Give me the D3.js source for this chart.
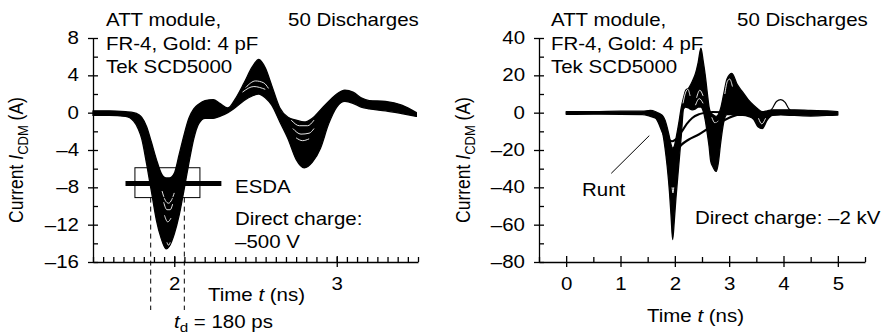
<!DOCTYPE html>
<html>
<head>
<meta charset="utf-8">
<script src="https://cdn.jsdelivr.net/npm/d3@7"></script>
<style>
  body { margin: 0; background: #fff; }
  svg text { font-family: "Liberation Sans", Arial, Helvetica, sans-serif; font-size: 17.5px; fill: #000; }
</style>
</head>
<body>
<svg id="chart" width="887" height="335"></svg>
<script>

// ---- left panel: -500 V, 50 discharges (envelope of the bundle) ----
var leftTime = [1.50,1.60,1.70,1.75,1.78,1.80,1.83,1.86,1.89,1.92,1.95,1.97,2.00,2.03,2.06,2.09,2.12,2.15,2.19,2.24,
                2.28,2.33,2.38,2.43,2.48,2.52,2.56,2.60,2.65,2.70,2.75,2.80,2.85,2.90,2.95,3.00,3.05,3.10,3.15,3.20,
                3.30,3.40,3.49];
var leftLow  = [-0.3,-0.3,-0.4,-0.9,-1.8,-2.8,-5.5,-8.5,-11.5,-13.5,-14.6,-14.3,-13.0,-11.0,-8.3,-5.4,-2.8,-1.2,-0.6,-0.6,
                -0.4,0.0,0.6,1.3,1.8,2.0,1.6,0.8,-1.0,-2.8,-5.0,-5.9,-5.3,-3.8,-1.2,0.6,1.2,1.0,0.6,0.4,
                0.2,-0.1,-0.4];
var leftHigh = [0.2,0.2,0.1,0.0,-0.2,-0.5,-1.5,-3.2,-5.0,-6.5,-7.0,-7.0,-6.5,-4.5,-2.4,-0.6,0.4,0.9,1.3,1.4,
                1.0,0.5,1.6,3.2,4.9,5.7,4.8,2.9,0.5,-0.5,-0.8,-1.0,-0.6,0.3,1.2,2.0,2.4,2.2,1.6,1.3,
                1.2,0.8,0.0];
// single traces seen as white gaps inside the bundle
var leftGaps = [
  [[1.925,-8.4],[1.945,-9.4],[1.965,-9.7],[1.985,-9.3],[2.0,-8.6]],
  [[1.935,-9.6],[1.955,-10.4],[1.975,-10.4],[1.99,-9.8]],
  [[1.94,-11.0],[1.96,-11.7],[1.98,-11.3]],
  [[1.955,-13.9],[1.965,-14.2],[1.975,-13.9]],
  [[2.44,2.7],[2.5,3.4],[2.55,3.2],[2.58,2.6]],
  [[2.42,2.2],[2.49,2.8],[2.56,2.5]],
  [[2.72,-0.8],[2.77,-1.4],[2.82,-1.4],[2.86,-0.8]],
  [[2.73,-1.7],[2.78,-2.3],[2.83,-2.2],[2.86,-1.7]],
  [[2.75,-2.7],[2.79,-3.0],[2.83,-2.8]]
];
var leftYTicks = [-16,-12,-8,-4,0,4,8];
var leftYMinor = [-14,-10,-6,-2,2,6];
var leftXTicks = [2,3];
var leftXMinor = d3.range(1.5, 3.5001, 0.0625);

// ---- right panel: -2 kV ----
var rightTime = [0,0.5,1.0,1.4,1.55,1.65,1.72,1.77,1.82,1.86,1.90,1.93,1.96,1.99,2.02,2.07,2.12,2.16,2.20,2.25,
                 2.32,2.38,2.43,2.48,2.52,2.56,2.60,2.63,2.66,2.70,2.76,2.80,2.84,2.90,2.96,3.05,3.15,3.25,3.35,3.45,
                 3.53,3.61,3.70,3.80,3.95,4.2,4.5,4.8,5.0];
var rightLow  = [-0.9,-0.8,-0.9,-1.0,-2.0,-3.0,-6.0,-10,-19,-29,-42,-55,-68,-58,-46,-29,-12,2,3,2.5,
                 1.5,2,3,3,1,-4,-11.7,-18,-26,-29,-31.5,-27,-17,-5,-1,-1,-1.5,-1.5,-2,-3.5,
                 -7.5,-8.5,-4,-1.5,-1.2,-1.5,-1.8,-1.5,-1.3];
var rightHigh = [0.6,0.6,0.8,0.8,1.2,0.5,-0.5,-1.5,-4,-8,-13,-17,-19,-18,-14,-6,3,8,12,13,
                 16.7,21,27,34.5,28,20,10,3,0,-1,-2,-1,2,10,18,21,15,11,7,4,
                 2,0.5,1,1.5,1.5,1.5,1.2,1.0,0.5];
var runtATime = [1.40,1.60,1.70,1.77,1.85,1.95,2.03,2.13,2.22,2.32,2.45,2.56,2.70,2.90];
var runtA     = [0,-0.8,-4,-9,-13,-15.3,-14,-10,-6,-2.8,-0.8,0,0.3,0.2];
var runtBTime = [1.40,1.60,1.70,1.77,1.85,1.96,2.05,2.13,2.25,2.44,2.63,2.87,3.06,3.30,3.50];
var runtB     = [0,-1,-5,-10,-15,-20.6,-19.5,-17,-14.5,-11.7,-8.2,-4.6,-2,-0.3,0];
var bumpTrace = [[3.72,0],[3.8,2.5],[3.87,6],[3.95,7],[4.03,5.5],[4.1,2],[4.17,0.3]];
var rightGaps = [
  [[2.15,5],[2.2,11],[2.24,12.5],[2.28,9]],
  [[2.40,8],[2.46,12],[2.52,9]],
  [[2.38,4],[2.45,7.5],[2.52,5]],
  [[2.92,10],[2.97,17],[3.01,18],[3.06,14]],
  [[2.68,-2.5],[2.74,-5.5],[2.8,-4.5]],
  [[1.95,-40],[1.965,-43],[1.98,-40]],
  [[3.54,-3],[3.6,-6],[3.67,-3]]
];
var rightYTicks = [-80,-60,-40,-20,0,20,40];
var rightYMinor = [-70,-50,-30,-10,10,30];
var rightXTicks = [0,1,2,3,4,5];
var rightXMinor = [-0.5,0.5,1.5,2.5,3.5,4.5,5.5];

var SX = 1.17;   // the scan is a bit wider than tall
var svg = d3.select("#chart");

function dash(d) { return d < 0 ? "\u2013" + Math.abs(d) : "" + d; }

// text made of pieces: {t, it, sub}
function rich(g, x, y, pieces, rot) {
  var tr = "translate(" + x + "," + y + ")" + (rot ? " rotate(-90) scale(1," + SX + ")" : " scale(" + SX + ",1)");
  var txt = g.append("text").attr("transform", tr).attr("text-anchor", rot ? "middle" : "start");
  var down = false;
  pieces.forEach(function(p) {
    var ts = txt.append("tspan").text(p.t);
    if (p.it) ts.style("font-style", "italic");
    if (p.sub) { ts.style("font-size", "13px").attr("dy", 4); down = true; }
    else if (down) { ts.attr("dy", -4); down = false; }
  });
  return txt;
}
function note(g, x, y, s) { return rich(g, x, y, [{t: s}]); }

function stretchAxis(ax) {
  ax.attr("font-size", null).attr("font-family", null);
  ax.selectAll("text").attr("x", function() { return (+this.getAttribute("x") || 0) / SX; })
    .attr("transform", "scale(" + SX + ",1)");
  ax.selectAll("path, line").attr("stroke-width", 1.3);
}

function drawPanel(p) {
  var g = svg.append("g");
  var x = d3.scaleLinear().domain(p.xDomain).range(p.xRange);
  var y = d3.scaleLinear().domain(p.yDomain).range([262, 38]);

  // bundle envelope
  var rows = p.time.map(function(t, i) { return {t: t, lo: p.low[i], hi: p.high[i]}; });
  var area = d3.area().curve(d3.curveMonotoneX)
    .x(function(d) { return x(d.t); })
    .y0(function(d) { return y(d.lo); })
    .y1(function(d) { return y(d.hi); });
  g.append("path").datum(rows).attr("d", area)
    .attr("fill", "#000").attr("stroke", "#000").attr("stroke-width", 1.3).attr("stroke-linejoin", "round");

  var line = d3.line().curve(d3.curveMonotoneX)
    .x(function(d) { return x(d[0]); })
    .y(function(d) { return y(d[1]); });

  p.gaps.forEach(function(gp) {
    g.append("path").attr("d", line(gp)).attr("fill", "none").attr("stroke", "#fff").attr("stroke-width", 0.9);
  });
  (p.traces || []).forEach(function(tr) {
    g.append("path").attr("d", line(tr.pts)).attr("fill", "none").attr("stroke", "#000").attr("stroke-width", tr.w);
  });

  // y axis
  var ay = g.append("g").attr("transform", "translate(" + p.xRange[0] + ",0)")
    .call(d3.axisLeft(y).tickValues(p.yTicks).tickSize(5).tickSizeOuter(0).tickPadding(9).tickFormat(dash));
  ay.selectAll(".tick line").attr("x1", 5);
  stretchAxis(ay);
  var ayMin = g.append("g").attr("transform", "translate(" + p.xRange[0] + ",0)")
    .call(d3.axisRight(y).tickValues(p.yMinor).tickSize(5).tickFormat(""));
  ayMin.select(".domain").remove();
  stretchAxis(ayMin);

  // x axis
  var ax = g.append("g").attr("transform", "translate(0,262)")
    .call(d3.axisBottom(x).tickValues(p.xTicks).tickSize(5).tickSizeOuter(0).tickPadding(10.6).tickFormat(dash));
  ax.selectAll(".tick line").attr("y1", -6);
  stretchAxis(ax);
  var axMin = g.append("g").attr("transform", "translate(0,262)")
    .call(d3.axisTop(x).tickValues(p.xMinor).tickSize(5).tickFormat(""));
  axMin.select(".domain").remove();
  stretchAxis(axMin);

  // labels
  rich(g, p.yLabelX, 160, [{t: "Current "}, {t: "I", it: true}, {t: "CDM", sub: true}, {t: " (A)"}], true);
  rich(g, p.timeX, p.timeY, [{t: "Time "}, {t: "t", it: true}, {t: " (ns)"}]);
  note(g, p.infoX, 26, "ATT module,");
  note(g, p.infoX, 49.5, "FR-4, Gold: 4 pF");
  note(g, p.infoX, 73, "Tek SCD5000");
  note(g, p.countX, 26, "50 Discharges");

  return {g: g, x: x, y: y};
}

// ---------- left ----------
var L = drawPanel({
  xDomain: [1.5, 3.5], xRange: [93, 418], yDomain: [-16, 8],
  time: leftTime, low: leftLow, high: leftHigh, gaps: leftGaps,
  yTicks: leftYTicks, yMinor: leftYMinor, xTicks: leftXTicks, xMinor: leftXMinor,
  yLabelX: 23, timeX: 208, timeY: 301, infoX: 106, countX: 288
});

// ESDA window and t_d marks
var esdaBox = {t0: 1.758, t1: 2.158, v0: -9.1, v1: -5.9};
var esdaBar = {t0: 1.70, t1: 2.29, v: -7.6};
var tdMarks = [1.855, 2.062];
L.g.append("rect")
  .attr("x", L.x(esdaBox.t0)).attr("y", L.y(esdaBox.v1))
  .attr("width", L.x(esdaBox.t1) - L.x(esdaBox.t0)).attr("height", L.y(esdaBox.v0) - L.y(esdaBox.v1))
  .attr("fill", "none").attr("stroke", "#000").attr("stroke-width", 1);
L.g.append("line")
  .attr("x1", L.x(esdaBar.t0)).attr("x2", L.x(esdaBar.t1))
  .attr("y1", L.y(esdaBar.v)).attr("y2", L.y(esdaBar.v))
  .attr("stroke", "#000").attr("stroke-width", 5);
L.g.selectAll(".td").data(tdMarks).enter().append("line")
  .attr("x1", function(d) { return L.x(d); }).attr("x2", function(d) { return L.x(d); })
  .attr("y1", L.y(esdaBox.v0)).attr("y2", 310)
  .attr("stroke", "#000").attr("stroke-width", 1).attr("stroke-dasharray", "5,4");
note(L.g, 235, 193, "ESDA");
note(L.g, 235, 225, "Direct charge:");
note(L.g, 235, 248, "\u2013500 V");
rich(L.g, 174, 328, [{t: "t", it: true}, {t: "d", sub: true}, {t: " = 180 ps"}]);

// ---------- right ----------
var R = drawPanel({
  xDomain: [-0.5, 5.5], xRange: [539, 865], yDomain: [-80, 40],
  time: rightTime, low: rightLow, high: rightHigh, gaps: rightGaps,
  traces: [
    {pts: runtATime.map(function(t, i) { return [t, runtA[i]]; }), w: 2},
    {pts: runtBTime.map(function(t, i) { return [t, runtB[i]]; }), w: 2.2},
    {pts: bumpTrace, w: 1.2}
  ],
  yTicks: rightYTicks, yMinor: rightYMinor, xTicks: rightXTicks, xMinor: rightXMinor,
  yLabelX: 470, timeX: 647, timeY: 322, infoX: 551, countX: 737
});

var runtPointer = [[0.83, -32.5], [1.53, -12.3]];
R.g.append("line")
  .attr("x1", R.x(runtPointer[0][0])).attr("y1", R.y(runtPointer[0][1]))
  .attr("x2", R.x(runtPointer[1][0])).attr("y2", R.y(runtPointer[1][1]))
  .attr("stroke", "#000").attr("stroke-width", 1);
note(R.g, 582, 196, "Runt");
note(R.g, 695, 224, "Direct charge: \u20132 kV");

</script>
</body>
</html>
